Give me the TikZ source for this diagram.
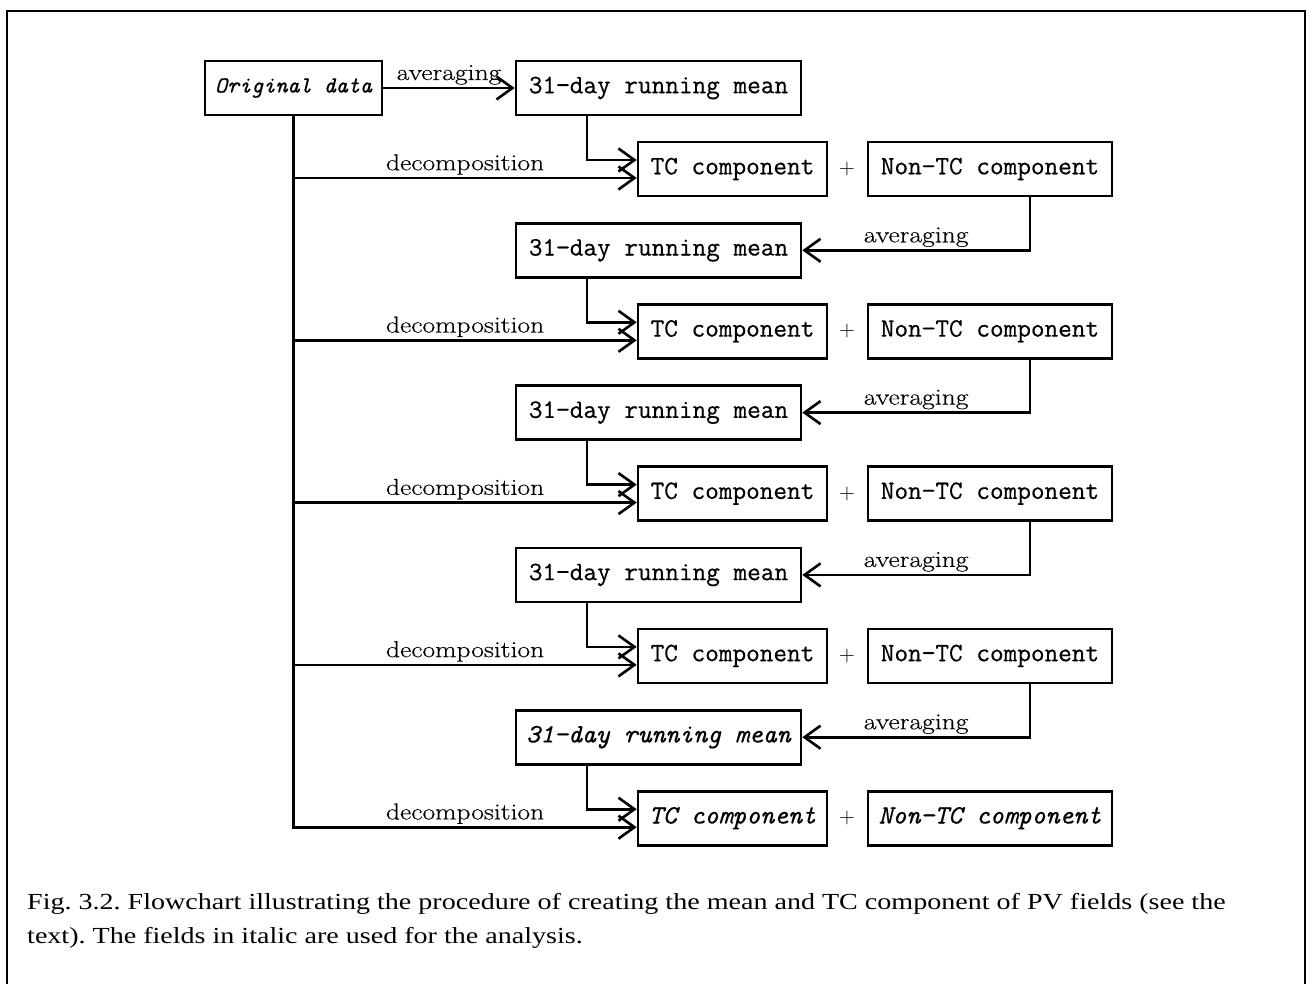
\documentclass[tikz,border=0pt]{standalone}
\usepackage{fontspec}
\setmainfont{Latin Modern Roman}
\setmonofont[FakeBold=0.5]{Latin Modern Mono}
\newfontfamily\capfont[FakeStretch=1.22]{Liberation Serif}
\newfontfamily\lblfont[FakeStretch=1.2, FakeBold=0.4]{Latin Modern Roman}
\usetikzlibrary{arrows.meta}

\tikzset{
  field/.style = {draw, line width=2.6pt, minimum height=54pt, inner sep=0pt,
    font=\fontsize{26.5}{30}\selectfont\ttfamily},
  meanbox/.style = {field, minimum width=285pt},
  tcbox/.style = {field, minimum width=189pt},
  nontcbox/.style = {field, minimum width=244pt},
  plus/.style = {font=\fontsize{22}{26}\selectfont, inner sep=0pt},
  flow/.style = {line width=2.6pt, -{Straight Barb[length=16pt,width=23pt]}},
  lbl/.style = {font=\fontsize{23}{26}\selectfont\lblfont, inner sep=2pt},
  caption/.style = {anchor=base west, inner sep=0pt, font=\fontsize{23}{34}\selectfont\capfont\frenchspacing}
}

\begin{document}
\begin{tikzpicture}[x=1pt, y=-1pt]
\useasboundingbox (0,0) rectangle (1309,984);
\draw[line width=2.6pt] (7,995) -- (7,11) -- (1305,11) -- (1305,995);

\path (293.5,88) node[field, minimum width=177pt, font=\fontsize{23}{28}\selectfont\ttfamily\itshape] (orig) {Original data};

\path (658.5,88) node[meanbox] (mean1) {31−day running mean};
\path (732.5,169) node[tcbox] (tc1) {TC component};
\path (847,169) node[plus] (plus1) {+};
\path (990,169) node[nontcbox] (nontc1) {Non−TC component};

\path (658.5,250.3) node[meanbox] (mean2) {31−day running mean};
\path (732.5,331.3) node[tcbox] (tc2) {TC component};
\path (847,331.3) node[plus] (plus2) {+};
\path (990,331.3) node[nontcbox] (nontc2) {Non−TC component};

\path (658.5,412.6) node[meanbox] (mean3) {31−day running mean};
\path (732.5,493.6) node[tcbox] (tc3) {TC component};
\path (847,493.6) node[plus] (plus3) {+};
\path (990,493.6) node[nontcbox] (nontc3) {Non−TC component};

\path (658.5,574.9) node[meanbox] (mean4) {31−day running mean};
\path (732.5,655.9) node[tcbox] (tc4) {TC component};
\path (847,655.9) node[plus] (plus4) {+};
\path (990,655.9) node[nontcbox] (nontc4) {Non−TC component};

% fields used for the analysis
\path (658.5,737.2) node[meanbox] (mean5) {\itshape 31−day running mean};
\path (732.5,818.2) node[tcbox] (tc5) {\itshape TC component};
\path (847,818.2) node[plus] (plus5) {+};
\path (990,818.2) node[nontcbox] (nontc5) {\itshape Non−TC component};

\coordinate (dec1) at ([yshift=-9pt]tc1.west);
\coordinate (dec2) at ([yshift=-9pt]tc2.west);
\coordinate (dec3) at ([yshift=-9pt]tc3.west);
\coordinate (dec4) at ([yshift=-9pt]tc4.west);
\coordinate (dec5) at ([yshift=-9pt]tc5.west);

\draw[flow] (orig) -- node[lbl, above] {averaging} (mean1);
\draw[flow] (orig.south) |- node[lbl, above, pos=0.75] {decomposition} (dec5);
\draw[flow] (orig.south |- dec1) -- node[lbl, above] {decomposition} (dec1);
\draw[flow] (orig.south |- dec2) -- node[lbl, above] {decomposition} (dec2);
\draw[flow] (orig.south |- dec3) -- node[lbl, above] {decomposition} (dec3);
\draw[flow] (orig.south |- dec4) -- node[lbl, above] {decomposition} (dec4);

\draw[flow] ([xshift=-71.5pt]mean1.south) |- ([yshift=9pt]tc1.west);
\draw[flow] ([xshift=-71.5pt]mean2.south) |- ([yshift=9pt]tc2.west);
\draw[flow] ([xshift=-71.5pt]mean3.south) |- ([yshift=9pt]tc3.west);
\draw[flow] ([xshift=-71.5pt]mean4.south) |- ([yshift=9pt]tc4.west);
\draw[flow] ([xshift=-71.5pt]mean5.south) |- ([yshift=9pt]tc5.west);

\draw[flow] ([xshift=40pt]nontc1.south) |- node[lbl, above, pos=0.75] {averaging} (mean2.east);
\draw[flow] ([xshift=40pt]nontc2.south) |- node[lbl, above, pos=0.75] {averaging} (mean3.east);
\draw[flow] ([xshift=40pt]nontc3.south) |- node[lbl, above, pos=0.75] {averaging} (mean4.east);
\draw[flow] ([xshift=40pt]nontc4.south) |- node[lbl, above, pos=0.75] {averaging} (mean5.east);

\path (27,909) node[caption] (cap1) {Fig. 3.2. Flowchart illustrating the procedure of creating the mean and TC component of PV fields (see the};
\path (27,943) node[caption] (cap2) {text). The fields in italic are used for the analysis.};
\end{tikzpicture}
\end{document}
